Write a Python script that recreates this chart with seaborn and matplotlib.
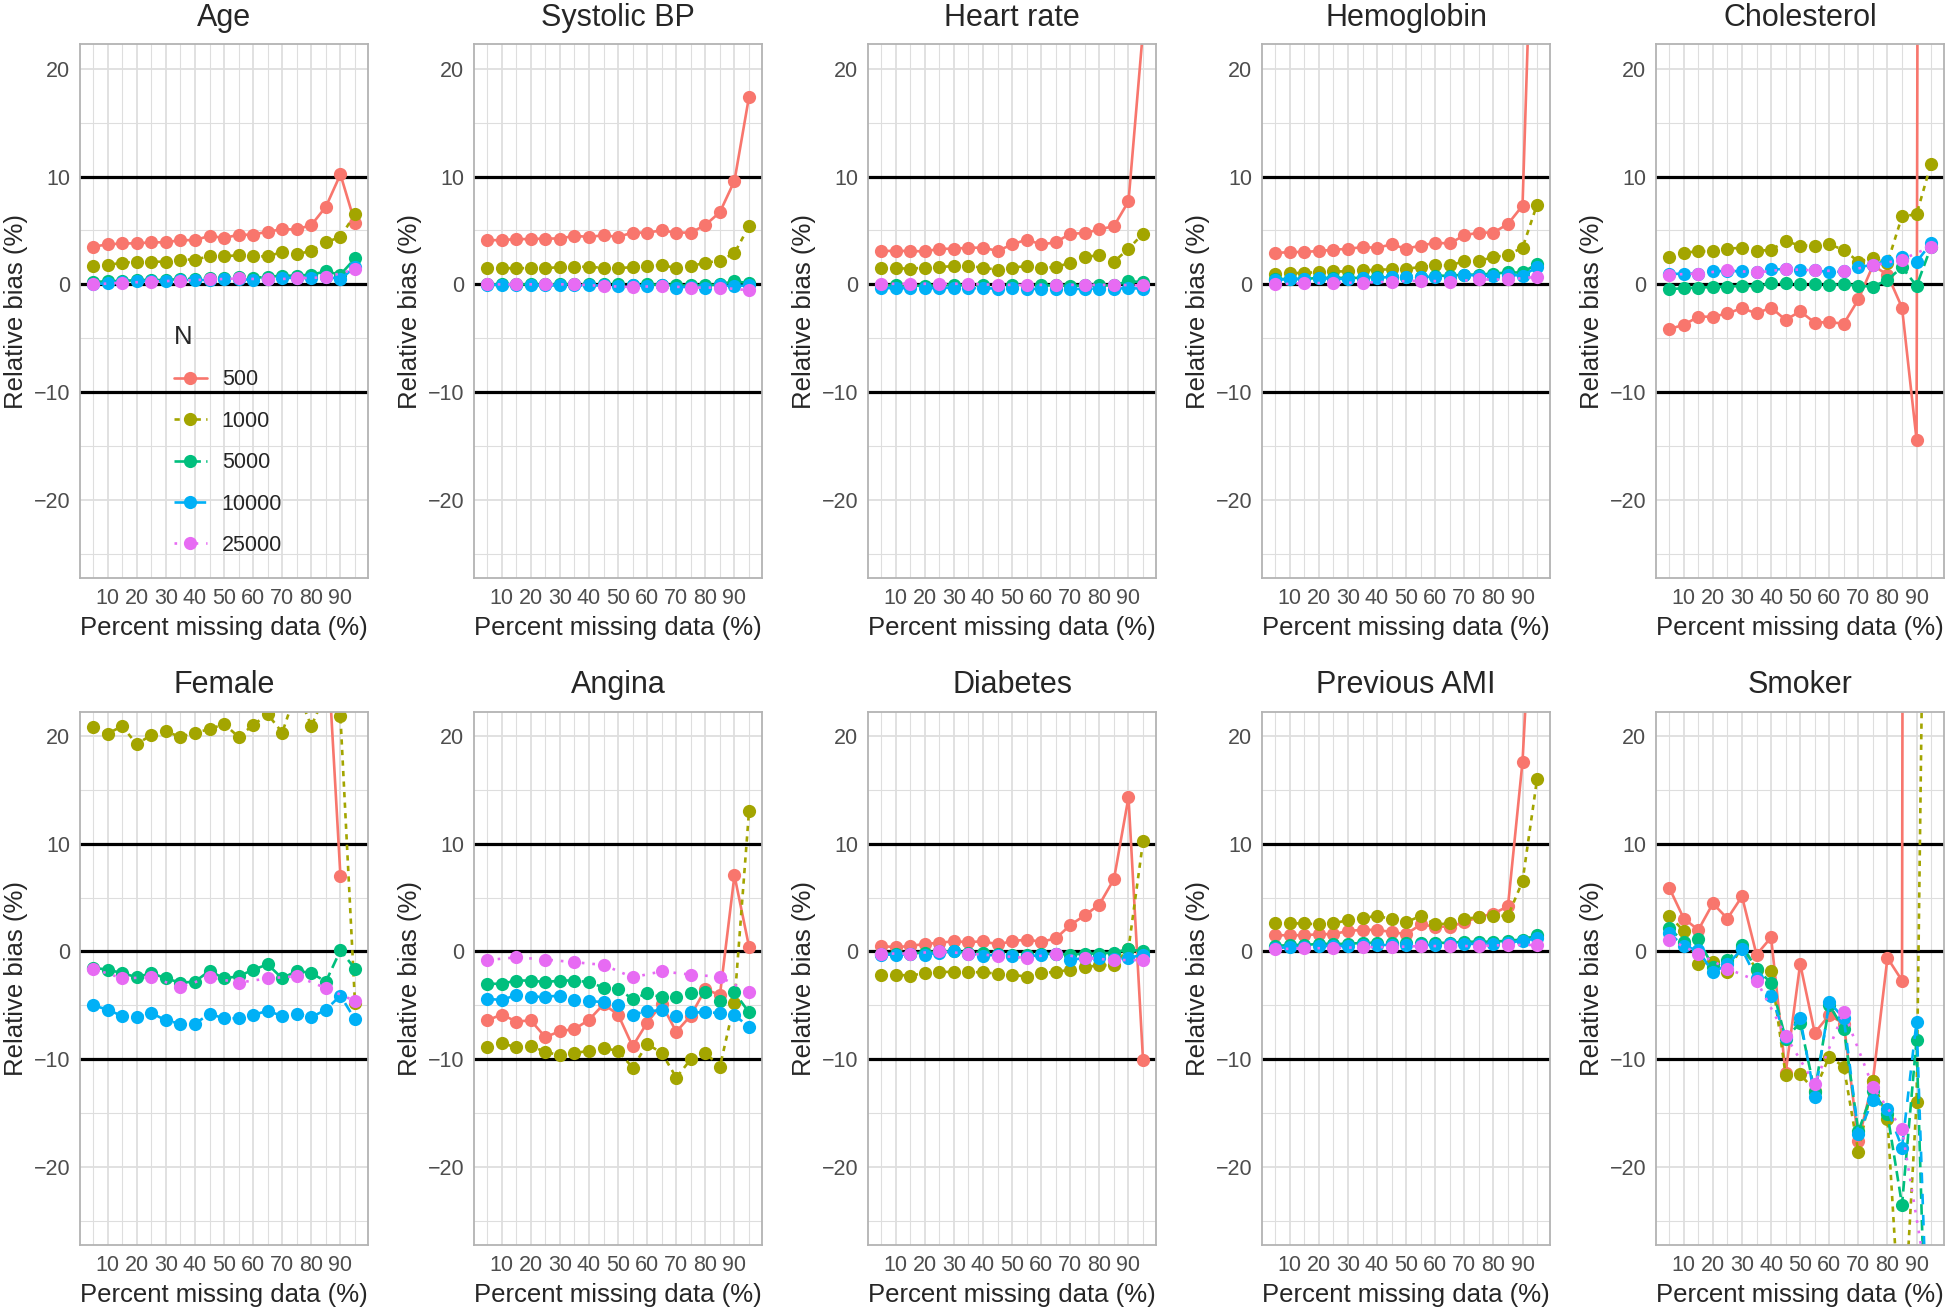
import numpy as np
import pandas as pd
import matplotlib.pyplot as plt
import seaborn as sns

sns.set_theme(style="white")
plt.rcParams['font.family'] = ['Liberation Sans', 'DejaVu Sans']

nan = np.nan

# x positions (percent missing); N=25000 was only run at every other level
pct_all = list(range(5, 100, 5))
pct_odd = list(range(5, 100, 10))
n_levels = ['500', '1000', '5000', '10000', '25000']
panels = ['Age', 'Systolic BP', 'Heart rate', 'Hemoglobin', 'Cholesterol',
          'Female', 'Angina', 'Diabetes', 'Previous AMI', 'Smoker']

# relative bias (%)
age_500 = [3.5, 3.7, 3.8, 3.8, 3.9, 3.9, 4.1, 4.1, 4.5, 4.3, 4.6, 4.6, 4.9, 5.1, 5.1, 5.5, 7.2, 10.2, 5.7]
age_1000 = [1.7, 1.8, 2.0, 2.1, 2.1, 2.1, 2.3, 2.3, 2.6, 2.6, 2.7, 2.6, 2.6, 3.0, 2.8, 3.1, 3.9, 4.4, 6.5]
age_5000 = [0.2, 0.3, 0.3, 0.4, 0.4, 0.4, 0.5, 0.5, 0.6, 0.6, 0.7, 0.6, 0.7, 0.8, 0.8, 0.9, 1.2, 0.9, 2.4]
age_10000 = [0.0, 0.1, 0.2, 0.3, 0.3, 0.3, 0.4, 0.4, 0.4, 0.5, 0.5, 0.4, 0.5, 0.6, 0.6, 0.6, 0.7, 0.5, 1.6]
age_25000 = [0.0, 0.15, 0.25, 0.35, 0.45, 0.55, 0.45, 0.55, 0.65, 1.4]

sbp_500 = [4.1, 4.1, 4.2, 4.2, 4.25, 4.25, 4.5, 4.4, 4.55, 4.4, 4.8, 4.8, 5.0, 4.8, 4.8, 5.5, 6.7, 9.6, 17.4]
sbp_1000 = [1.5, 1.5, 1.5, 1.5, 1.5, 1.6, 1.6, 1.65, 1.5, 1.5, 1.6, 1.7, 1.8, 1.5, 1.7, 2.0, 2.2, 2.9, 5.4]
sbp_5000 = [0.0, 0.0, 0.0, 0.0, 0.0, 0.0, 0.0, 0.0, 0.0, 0.0, -0.05, 0.0, -0.05, -0.1, -0.1, -0.1, 0.0, 0.3, 0.1]
sbp_10000 = [-0.05, -0.05, -0.05, -0.1, -0.1, -0.1, -0.1, -0.1, -0.1, -0.15, -0.1, -0.15, -0.1, -0.3, -0.2, -0.3, -0.1, -0.15, -0.1]
sbp_25000 = [0.0, 0.0, 0.0, 0.0, -0.15, -0.25, -0.15, -0.3, -0.3, -0.55]

hr_500 = [3.1, 3.1, 3.1, 3.05, 3.3, 3.3, 3.4, 3.4, 3.1, 3.7, 4.15, 3.7, 3.9, 4.7, 4.75, 5.1, 5.4, 7.7, 23.6]
hr_1000 = [1.5, 1.5, 1.45, 1.55, 1.6, 1.7, 1.7, 1.55, 1.35, 1.55, 1.7, 1.55, 1.6, 2.0, 2.55, 2.7, 2.1, 3.3, 4.7]
hr_5000 = [-0.1, -0.1, -0.1, -0.15, -0.1, -0.05, -0.1, -0.1, -0.15, -0.1, -0.15, -0.1, -0.1, -0.15, -0.1, -0.1, -0.1, 0.3, 0.2]
hr_10000 = [-0.35, -0.35, -0.35, -0.35, -0.35, -0.3, -0.35, -0.35, -0.4, -0.35, -0.45, -0.4, -0.4, -0.45, -0.4, -0.4, -0.4, -0.35, -0.4]
hr_25000 = [0.05, 0.05, 0.05, 0.05, -0.05, -0.05, -0.05, -0.05, -0.05, -0.1]

hb_500 = [2.9, 3.0, 3.0, 3.1, 3.2, 3.3, 3.45, 3.4, 3.7, 3.3, 3.6, 3.85, 3.8, 4.55, 4.8, 4.8, 5.6, 7.3, 50.0]
hb_1000 = [1.0, 1.05, 1.05, 1.15, 1.2, 1.2, 1.3, 1.35, 1.4, 1.45, 1.6, 1.75, 1.75, 2.15, 2.2, 2.5, 2.75, 3.4, 7.4]
hb_5000 = [0.5, 0.5, 0.5, 0.6, 0.6, 0.6, 0.6, 0.7, 0.7, 0.7, 0.7, 0.8, 0.8, 0.9, 0.9, 1.0, 1.1, 1.1, 1.9]
hb_10000 = [0.4, 0.5, 0.5, 0.6, 0.5, 0.5, 0.6, 0.6, 0.7, 0.7, 0.7, 0.7, 0.7, 0.9, 0.8, 0.8, 0.9, 0.8, 1.6]
hb_25000 = [0.0, 0.1, 0.15, 0.15, 0.25, 0.35, 0.25, 0.45, 0.45, 0.7]

chol_500 = [-4.15, -3.75, -3.0, -3.0, -2.7, -2.2, -2.7, -2.15, -3.3, -2.5, -3.55, -3.5, -3.65, -1.4, 1.75, 0.9, -2.15, -14.4, 600.0]
chol_1000 = [2.5, 2.95, 3.05, 3.1, 3.3, 3.4, 3.1, 3.2, 4.0, 3.6, 3.6, 3.7, 3.2, 2.1, 2.45, 2.0, 6.3, 6.5, 11.2]
chol_5000 = [-0.45, -0.35, -0.3, -0.25, -0.2, -0.15, -0.15, 0.1, 0.15, 0.0, 0.05, -0.1, 0.05, -0.15, -0.2, 0.4, 1.6, -0.15, 3.5]
chol_10000 = [0.95, 1.0, 1.0, 1.2, 1.25, 1.2, 1.1, 1.4, 1.4, 1.3, 1.35, 1.1, 1.2, 1.6, 1.8, 2.2, 2.5, 2.1, 3.8]
chol_25000 = [0.9, 1.0, 1.3, 1.1, 1.4, 1.3, 1.2, 1.75, 2.3, 3.5]

fem_500 = [31, 33, 30, 32, 29, 34, 31, 30, 33, 29, 32, 31, 30, 33, 31, 34, 30.8, 7.0, nan]
fem_1000 = [20.8, 20.2, 20.9, 19.2, 20.1, 20.4, 19.9, 20.3, 20.6, 21.1, 19.9, 21.0, 22.0, 20.3, 24.3, 20.9, 24.0, 21.8, -4.75]
fem_5000 = [-1.5, -1.7, -2.0, -2.4, -2.0, -2.5, -2.9, -2.8, -1.8, -2.5, -2.3, -1.7, -1.2, -2.5, -1.8, -2.0, -2.8, 0.1, -1.6]
fem_10000 = [-5.0, -5.4, -6.0, -6.1, -5.7, -6.4, -6.7, -6.7, -5.8, -6.2, -6.2, -5.9, -5.5, -6.0, -5.8, -6.1, -5.4, -4.1, -6.3]
fem_25000 = [-1.6, -2.5, -2.4, -3.3, -2.4, -2.9, -2.5, -2.3, -3.4, -4.6]

ang_500 = [-6.4, -5.85, -6.5, -6.4, -7.95, -7.4, -7.2, -6.35, -4.9, -5.85, -8.8, -6.6, -4.9, -7.45, -5.95, -3.5, -4.05, 7.05, 0.45]
ang_1000 = [-8.9, -8.5, -8.9, -8.8, -9.3, -9.65, -9.45, -9.2, -9.0, -9.2, -10.8, -8.6, -9.4, -11.7, -10.0, -9.4, -10.7, -4.75, 13.0]
ang_5000 = [-3.0, -3.0, -2.7, -2.7, -2.85, -2.7, -2.7, -2.85, -3.35, -3.5, -4.4, -3.9, -4.25, -4.25, -3.9, -3.75, -4.6, -3.8, -5.65]
ang_10000 = [-4.4, -4.5, -4.05, -4.2, -4.2, -4.1, -4.5, -4.6, -4.7, -5.0, -5.85, -5.55, -5.45, -5.95, -5.65, -5.65, -5.7, -5.9, -7.0]
ang_25000 = [-0.8, -0.55, -0.75, -1.0, -1.25, -2.4, -1.85, -2.15, -2.35, -3.8]

dia_500 = [0.5, 0.4, 0.5, 0.7, 0.8, 0.95, 0.85, 0.95, 0.65, 0.95, 1.1, 0.9, 1.2, 2.45, 3.35, 4.35, 6.7, 14.3, -10.1]
dia_1000 = [-2.15, -2.15, -2.25, -2.0, -1.9, -1.9, -1.9, -1.95, -2.05, -2.15, -2.35, -2.0, -1.9, -1.7, -1.45, -1.3, -1.25, 0.25, 10.2]
dia_5000 = [-0.2, -0.2, -0.2, -0.1, 0.0, 0.0, -0.1, -0.15, -0.2, -0.3, -0.3, -0.25, -0.2, -0.3, -0.2, -0.2, -0.1, 0.2, 0.0]
dia_10000 = [-0.3, -0.3, -0.25, -0.3, -0.1, 0.0, -0.2, -0.4, -0.3, -0.4, -0.5, -0.3, -0.2, -0.8, -0.6, -0.6, -0.7, -0.6, -0.3]
dia_25000 = [-0.2, -0.2, 0.0, -0.2, -0.4, -0.6, -0.2, -0.6, -0.8, -0.8]

ami_500 = [1.5, 1.5, 1.5, 1.6, 1.6, 1.9, 2.0, 2.0, 1.8, 1.6, 2.5, 2.3, 2.3, 2.7, 3.2, 3.5, 4.2, 17.6, 43.0]
ami_1000 = [2.6, 2.6, 2.6, 2.5, 2.6, 2.9, 3.1, 3.3, 3.0, 2.7, 3.3, 2.5, 2.6, 3.0, 3.2, 3.3, 3.3, 6.5, 16.0]
ami_5000 = [0.5, 0.6, 0.6, 0.7, 0.7, 0.7, 0.8, 0.8, 0.8, 0.8, 0.8, 0.8, 0.8, 0.9, 0.9, 0.9, 1.0, 1.1, 1.5]
ami_10000 = [0.3, 0.4, 0.4, 0.5, 0.5, 0.5, 0.6, 0.6, 0.6, 0.6, 0.6, 0.6, 0.7, 0.7, 0.7, 0.7, 0.8, 1.0, 1.2]
ami_25000 = [0.2, 0.3, 0.3, 0.4, 0.4, 0.5, 0.5, 0.5, 0.6, 0.6]

smk_500 = [5.9, 3.05, 2.0, 4.45, 3.05, 5.1, -0.3, 1.3, -11.3, -1.15, -7.55, -5.9, -6.7, -17.6, -12.0, -0.6, -2.7, 800.0, nan]
smk_1000 = [3.3, 1.9, -1.15, -1.0, -1.9, 0.45, -1.7, -1.8, -11.45, -11.4, -12.9, -9.75, -10.7, -18.6, -12.0, -15.5, -38.0, -14.0, 90.0]
smk_5000 = [2.15, 0.9, 1.15, -1.45, -0.8, 0.6, -1.65, -2.9, -8.1, -6.6, -13.0, -5.0, -7.2, -16.7, -12.9, -15.1, -23.5, -8.2, -54.0]
smk_10000 = [1.7, 0.5, 0.1, -1.95, -1.2, 0.2, -2.5, -4.1, -7.9, -6.2, -13.5, -4.7, -6.2, -16.9, -13.8, -14.6, -18.2, -6.5, -46.0]
smk_25000 = [1.1, -0.2, -1.6, -2.7, -7.8, -12.3, -5.6, -12.55, -16.5, -33.0]

series = {
    'Age': [age_500, age_1000, age_5000, age_10000, age_25000],
    'Systolic BP': [sbp_500, sbp_1000, sbp_5000, sbp_10000, sbp_25000],
    'Heart rate': [hr_500, hr_1000, hr_5000, hr_10000, hr_25000],
    'Hemoglobin': [hb_500, hb_1000, hb_5000, hb_10000, hb_25000],
    'Cholesterol': [chol_500, chol_1000, chol_5000, chol_10000, chol_25000],
    'Female': [fem_500, fem_1000, fem_5000, fem_10000, fem_25000],
    'Angina': [ang_500, ang_1000, ang_5000, ang_10000, ang_25000],
    'Diabetes': [dia_500, dia_1000, dia_5000, dia_10000, dia_25000],
    'Previous AMI': [ami_500, ami_1000, ami_5000, ami_10000, ami_25000],
    'Smoker': [smk_500, smk_1000, smk_5000, smk_10000, smk_25000],
}

rows = []
for panel, vals in series.items():
    for n, ys in zip(n_levels, vals):
        xs = pct_odd if n == '25000' else pct_all
        for x, y in zip(xs, ys):
            if not np.isnan(y):
                rows.append((panel, n, x, y))
df = pd.DataFrame(rows, columns=['panel', 'N', 'pct', 'bias'])

palette = dict(zip(n_levels, ['#F8766D', '#A3A500', '#00BF7D', '#00B0F6', '#E76BF3']))
dashes = {'500': '', '1000': (2, 2), '5000': (4, 2), '10000': (4, 4), '25000': (1, 3)}
markers = {n: 'o' for n in n_levels}

GRID = '#DEDEDE'
BORDER = '#B3B3B3'
MS = 9.5
LW = 1.9

fig, axes = plt.subplots(2, 5, figsize=(19.52, 13.08), dpi=100)
fig.subplots_adjust(left=0.041, right=0.996, top=0.966, bottom=0.048, wspace=0.368, hspace=0.25)

for i, (ax, panel) in enumerate(zip(axes.flat, panels)):
    ax.set_facecolor('white')
    ax.set_xlim(0.5, 99.5)
    ax.set_ylim(-27.25, 22.25)
    ax.set_xticks(range(10, 100, 10))
    ax.set_xticks(range(5, 100, 10), minor=True)
    ax.set_yticks([-20, -10, 0, 10, 20])
    ax.set_yticks([-25, -15, -5, 5, 15], minor=True)
    ax.grid(which='major', color=GRID, lw=1.3)
    ax.grid(which='minor', color=GRID, lw=0.8)
    ax.set_axisbelow(True)
    for yv in (-10, 0, 10):
        ax.axhline(yv, color='black', lw=2.3, zorder=1.5)

    sns.lineplot(data=df[df.panel == panel], x='pct', y='bias', hue='N', style='N',
                 hue_order=n_levels, style_order=n_levels, palette=palette,
                 dashes=dashes, markers=markers, lw=LW, markersize=MS,
                 markeredgewidth=0, ax=ax, legend=(i == 0))

    ax.set_title(panel, fontsize=22, pad=13)
    ax.set_xlabel('Percent missing data (%)', fontsize=18.5, labelpad=5)
    ax.set_ylabel('Relative bias (%)', fontsize=18.5, labelpad=4)
    ax.tick_params(which='major', length=4, width=1.1, color=BORDER,
                   labelsize=15.5, labelcolor='#4D4D4D', pad=3)
    ax.tick_params(which='minor', length=0)
    for sp in ax.spines.values():
        sp.set_color(BORDER)
        sp.set_linewidth(1.3)

    if i == 0:
        handles, labels = ax.get_legend_handles_labels()
        for h in handles:
            h.set_markersize(MS)
            h.set_linewidth(LW)
        ax.get_legend().remove()
        ax.legend(handles, labels, title='N', loc='upper left',
                  bbox_to_anchor=(0.29, 0.495), frameon=False, fontsize=15.5,
                  title_fontsize=18.5, alignment='left', handlelength=1.5,
                  handletextpad=0.7, labelspacing=0.95, borderpad=0)

fig.savefig('out.png', dpi=100)
